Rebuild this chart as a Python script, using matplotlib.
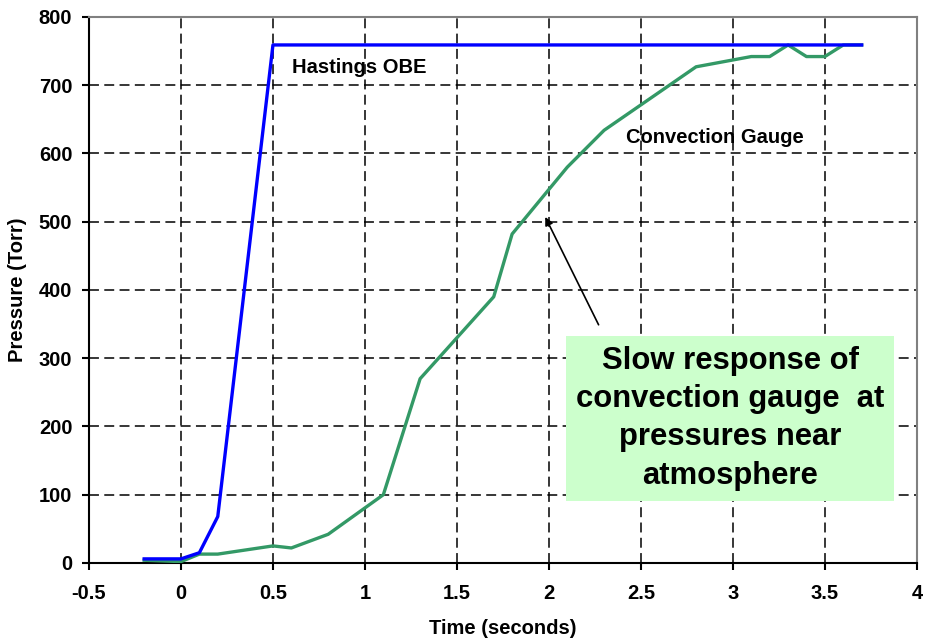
import matplotlib
import numpy as np

matplotlib.use("Agg")
import matplotlib.pyplot as plt

plt.rcParams["font.family"] = ["Liberation Sans", "DejaVu Sans"]
plt.rcParams["font.weight"] = "bold"

# Hastings OBE gauge
obe_t = [-0.2, 0.0, 0.1, 0.2, 0.5, 3.7]
obe_p = [6, 6, 15, 68, 759, 759]

# convection gauge
conv_t = [-0.2, 0.0, 0.1, 0.2, 0.5, 0.6, 0.8, 1.1, 1.3, 1.7, 1.8, 2.1, 2.3,
          2.8, 3.1, 3.2, 3.3, 3.4, 3.5, 3.6, 3.7]
conv_p = [4, 2, 13, 13, 25, 22, 42, 100, 270, 390, 482, 580, 634,
          727, 742, 742, 759, 742, 742, 759, 759]

x_ticks = [-0.5, 0, 0.5, 1, 1.5, 2, 2.5, 3, 3.5, 4]
x_tick_labels = ["-0.5", "0", "0.5", "1", "1.5", "2", "2.5", "3", "3.5", "4"]
y_ticks = [0, 100, 200, 300, 400, 500, 600, 700, 800]

fig = plt.figure(figsize=(9.25, 6.38), dpi=100)
ax = fig.add_axes([0.0962, 0.1176, 0.895, 0.8558])

ax.plot(conv_t, conv_p, color="#339966", lw=2.4, zorder=3)
ax.plot(obe_t, obe_p, color="#0000ff", lw=2.4, zorder=4)

ax.set_xlim(-0.5, 4)
ax.set_ylim(0, 800)
ax.set_xticks(x_ticks)
ax.set_xticklabels(x_tick_labels)
ax.set_yticks(y_ticks)
ax.tick_params(labelsize=14.5, length=5, width=1.5, direction="out")
ax.tick_params(axis="x", pad=10)
ax.tick_params(axis="y", pad=7)
ax.grid(True, color="black", linestyle=(0, (6.5, 3.5)), linewidth=1.1)
ax.set_axisbelow(True)

ax.spines["left"].set_linewidth(1.5)
ax.spines["bottom"].set_linewidth(1.5)
ax.spines["top"].set_color("#808080")
ax.spines["right"].set_color("#808080")
ax.spines["top"].set_linewidth(1.5)
ax.spines["right"].set_linewidth(1.5)

ax.set_xlabel("Time (seconds)", fontsize=14.5, fontweight="bold")
ax.set_ylabel("Pressure (Torr)", fontsize=14.5, fontweight="bold")
ax.xaxis.set_label_coords(0.5, -0.102)
ax.yaxis.set_label_coords(-0.0745, 0.5)

ax.text(0.606, 718, "Hastings OBE", fontsize=14.5, fontweight="bold", zorder=5)
ax.text(2.42, 615, "Convection Gauge", fontsize=14.5, fontweight="bold", zorder=5)

ax.text(2.985, 212,
        "Slow response of\nconvection gauge  at\npressures near\natmosphere",
        ha="center", va="center", fontsize=22.3, fontweight="bold",
        linespacing=1.36, zorder=6,
        bbox=dict(boxstyle="square,pad=0.32", facecolor="#ccffcc",
                  edgecolor="none"))

ax.annotate("", xy=(1.98, 507), xytext=(2.27, 349),
            arrowprops=dict(arrowstyle="-|>", color="black", lw=1.2,
                            mutation_scale=12, shrinkA=0, shrinkB=0),
            zorder=5)

fig.savefig("out.png", dpi=100)
